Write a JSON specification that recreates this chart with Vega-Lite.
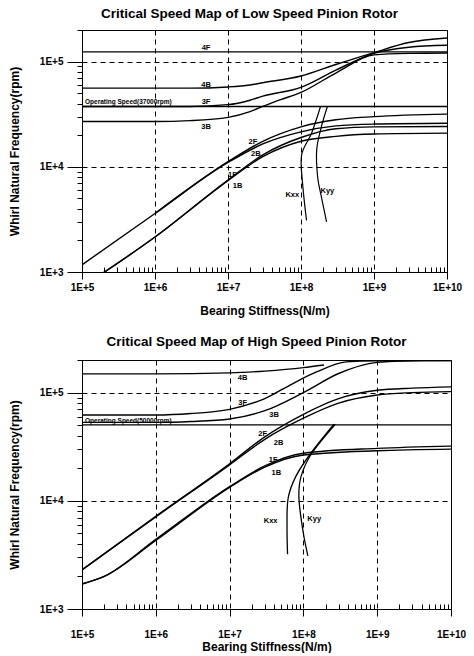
{
  "$schema": "https://vega.github.io/schema/vega-lite/v6.json",
  "padding": {"left": 7, "top": 6, "right": 5, "bottom": 0},
  "spacing": 17,
  "config": {
    "font": "Liberation Sans",
    "view": {"stroke": "black", "strokeWidth": 1},
    "axis": {"domainColor": "black", "tickColor": "black", "labelColor": "black", "titleColor": "black", "gridColor": "black", "gridDash": [5, 4], "gridWidth": 1, "labelFontWeight": "bold", "labelFontSize": 10, "titleFontWeight": "bold", "titleFontSize": 12, "labelFlush": false, "labelOverlap": false},
    "title": {"fontSize": 13.5, "fontWeight": "bold", "color": "black", "anchor": "middle", "frame": "group"}
  },
  "datasets": {
    "low": [
      {"s": "4F", "x": 1e5, "y": 124000}, {"s": "4F", "x": 1e10, "y": 124000},
      {"s": "4B", "x": 1e5, "y": 56000}, {"s": "4B", "x": 3e6, "y": 56000}, {"s": "4B", "x": 1e7, "y": 57500}, {"s": "4B", "x": 2e7, "y": 60000}, {"s": "4B", "x": 3e7, "y": 63000}, {"s": "4B", "x": 1e8, "y": 73000}, {"s": "4B", "x": 3e8, "y": 94000}, {"s": "4B", "x": 1e9, "y": 122000}, {"s": "4B", "x": 3e9, "y": 152000}, {"s": "4B", "x": 1e10, "y": 168000},
      {"s": "3F", "x": 1e5, "y": 37500}, {"s": "3F", "x": 3e6, "y": 37500}, {"s": "3F", "x": 1e7, "y": 39000}, {"s": "3F", "x": 2e7, "y": 43000}, {"s": "3F", "x": 3e7, "y": 47000}, {"s": "3F", "x": 1e8, "y": 57000}, {"s": "3F", "x": 3e8, "y": 83000}, {"s": "3F", "x": 1e9, "y": 120000}, {"s": "3F", "x": 3e9, "y": 137000}, {"s": "3F", "x": 1e10, "y": 143000},
      {"s": "3B", "x": 1e5, "y": 27000}, {"s": "3B", "x": 1e6, "y": 27000}, {"s": "3B", "x": 3e6, "y": 27500}, {"s": "3B", "x": 1e7, "y": 29500}, {"s": "3B", "x": 2e7, "y": 33500}, {"s": "3B", "x": 3e7, "y": 37500}, {"s": "3B", "x": 5e7, "y": 43000}, {"s": "3B", "x": 1e8, "y": 51000}, {"s": "3B", "x": 3e8, "y": 78000}, {"s": "3B", "x": 1e9, "y": 116000}, {"s": "3B", "x": 3e9, "y": 120000}, {"s": "3B", "x": 1e10, "y": 121000},
      {"s": "OP", "x": 1e5, "y": 37500}, {"s": "OP", "x": 1e10, "y": 37500},
      {"s": "2F", "x": 1e5, "y": 1170}, {"s": "2F", "x": 1e6, "y": 3600}, {"s": "2F", "x": 1e7, "y": 11200}, {"s": "2F", "x": 3e7, "y": 17500}, {"s": "2F", "x": 1e8, "y": 24000}, {"s": "2F", "x": 3e8, "y": 28000}, {"s": "2F", "x": 1e9, "y": 30000}, {"s": "2F", "x": 1e10, "y": 31700},
      {"s": "2B", "x": 1e6, "y": 3600}, {"s": "2B", "x": 1e7, "y": 11000}, {"s": "2B", "x": 3e7, "y": 16500}, {"s": "2B", "x": 1e8, "y": 21500}, {"s": "2B", "x": 3e8, "y": 24500}, {"s": "2B", "x": 1e9, "y": 25500}, {"s": "2B", "x": 1e10, "y": 26000},
      {"s": "1F", "x": 1e5, "y": 720}, {"s": "1F", "x": 1e6, "y": 2150}, {"s": "1F", "x": 1e7, "y": 7500}, {"s": "1F", "x": 3e7, "y": 13000}, {"s": "1F", "x": 1e8, "y": 19000}, {"s": "1F", "x": 3e8, "y": 23000}, {"s": "1F", "x": 1e9, "y": 24000}, {"s": "1F", "x": 1e10, "y": 24200},
      {"s": "1B", "x": 1e5, "y": 720}, {"s": "1B", "x": 1e6, "y": 2150}, {"s": "1B", "x": 1e7, "y": 7400}, {"s": "1B", "x": 3e7, "y": 12500}, {"s": "1B", "x": 1e8, "y": 17500}, {"s": "1B", "x": 3e8, "y": 19500}, {"s": "1B", "x": 1e9, "y": 20500}, {"s": "1B", "x": 1e10, "y": 20900}
    ],
    "lowK": [
      {"s": "Kxx", "x": 1.85e8, "y": 37500}, {"s": "Kxx", "x": 1.4e8, "y": 21000}, {"s": "Kxx", "x": 1.02e8, "y": 13000}, {"s": "Kxx", "x": 1.05e8, "y": 7000}, {"s": "Kxx", "x": 1.19e8, "y": 3100},
      {"s": "Kyy", "x": 2.3e8, "y": 37500}, {"s": "Kyy", "x": 1.9e8, "y": 24000}, {"s": "Kyy", "x": 1.64e8, "y": 14500}, {"s": "Kyy", "x": 1.69e8, "y": 8000}, {"s": "Kyy", "x": 1.9e8, "y": 5200}, {"s": "Kyy", "x": 2.24e8, "y": 3000}
    ],
    "lowLab": [
      {"t": "4F", "x": 5e6, "y": 136000}, {"t": "4B", "x": 5e6, "y": 60000}, {"t": "3F", "x": 5e6, "y": 41000}, {"t": "3B", "x": 5e6, "y": 24000},
      {"t": "2F", "x": 2.2e7, "y": 17300}, {"t": "2B", "x": 2.4e7, "y": 13300}, {"t": "1F", "x": 1.15e7, "y": 8400}, {"t": "1B", "x": 1.35e7, "y": 6600},
      {"t": "Kxx", "x": 7.6e7, "y": 5400}, {"t": "Kyy", "x": 2.3e8, "y": 5900}
    ],
    "lowOp": [{"t": "Operating Speed(37000rpm)", "x": 1.1e5, "y": 37500}],
    "high": [
      {"s": "4B", "x": 1e5, "y": 149000}, {"s": "4B", "x": 1e6, "y": 149000}, {"s": "4B", "x": 1e7, "y": 152000}, {"s": "4B", "x": 3e7, "y": 158000}, {"s": "4B", "x": 1e8, "y": 170000}, {"s": "4B", "x": 1.9e8, "y": 180000},
      {"s": "3F", "x": 1e5, "y": 62000}, {"s": "3F", "x": 1e6, "y": 62000}, {"s": "3F", "x": 3e6, "y": 64000}, {"s": "3F", "x": 1e7, "y": 70000}, {"s": "3F", "x": 3e7, "y": 88000}, {"s": "3F", "x": 7e7, "y": 120000}, {"s": "3F", "x": 1.5e8, "y": 155000}, {"s": "3F", "x": 3.8e8, "y": 192000}, {"s": "3F", "x": 1e9, "y": 197000}, {"s": "3F", "x": 1e10, "y": 198000},
      {"s": "3B", "x": 1e5, "y": 53000}, {"s": "3B", "x": 1e6, "y": 53000}, {"s": "3B", "x": 3e6, "y": 54000}, {"s": "3B", "x": 1e7, "y": 57000}, {"s": "3B", "x": 3e7, "y": 68000}, {"s": "3B", "x": 1e8, "y": 100000}, {"s": "3B", "x": 3e8, "y": 150000}, {"s": "3B", "x": 1e9, "y": 190000}, {"s": "3B", "x": 3e9, "y": 197000}, {"s": "3B", "x": 1e10, "y": 198000},
      {"s": "OP", "x": 1e5, "y": 50300}, {"s": "OP", "x": 1e10, "y": 50300},
      {"s": "2F", "x": 1e5, "y": 2300}, {"s": "2F", "x": 1e6, "y": 7200}, {"s": "2F", "x": 1e7, "y": 22000}, {"s": "2F", "x": 3e7, "y": 39000}, {"s": "2F", "x": 1e8, "y": 63000}, {"s": "2F", "x": 3e8, "y": 88000}, {"s": "2F", "x": 1e9, "y": 105000}, {"s": "2F", "x": 3e9, "y": 110000}, {"s": "2F", "x": 1e10, "y": 113000},
      {"s": "2B", "x": 1e5, "y": 2300}, {"s": "2B", "x": 1e6, "y": 7100}, {"s": "2B", "x": 1e7, "y": 21500}, {"s": "2B", "x": 3e7, "y": 37000}, {"s": "2B", "x": 1e8, "y": 58000}, {"s": "2B", "x": 3e8, "y": 80000}, {"s": "2B", "x": 1e9, "y": 95000}, {"s": "2B", "x": 3e9, "y": 100000}, {"s": "2B", "x": 1e10, "y": 102000},
      {"s": "1F", "x": 1e5, "y": 1700}, {"s": "1F", "x": 2e5, "y": 2000}, {"s": "1F", "x": 1e6, "y": 4400}, {"s": "1F", "x": 1e7, "y": 13500}, {"s": "1F", "x": 3e7, "y": 21000}, {"s": "1F", "x": 1e8, "y": 27500}, {"s": "1F", "x": 1e9, "y": 30500}, {"s": "1F", "x": 1e10, "y": 32000},
      {"s": "1B", "x": 1e5, "y": 1700}, {"s": "1B", "x": 2e5, "y": 2000}, {"s": "1B", "x": 1e6, "y": 4300}, {"s": "1B", "x": 1e7, "y": 13300}, {"s": "1B", "x": 3e7, "y": 20500}, {"s": "1B", "x": 1e8, "y": 26500}, {"s": "1B", "x": 1e9, "y": 29000}, {"s": "1B", "x": 1e10, "y": 30000}
    ],
    "highK": [
      {"s": "Kxx", "x": 2.6e8, "y": 51000}, {"s": "Kxx", "x": 1.26e8, "y": 27500}, {"s": "Kxx", "x": 7.9e7, "y": 16800}, {"s": "Kxx", "x": 6.2e7, "y": 10500}, {"s": "Kxx", "x": 6e7, "y": 5800}, {"s": "Kxx", "x": 6.1e7, "y": 3200},
      {"s": "Kyy", "x": 2.7e8, "y": 51000}, {"s": "Kyy", "x": 1.3e8, "y": 27500}, {"s": "Kyy", "x": 9.3e7, "y": 16800}, {"s": "Kyy", "x": 8.7e7, "y": 10500}, {"s": "Kyy", "x": 9.9e7, "y": 5200}, {"s": "Kyy", "x": 1.15e8, "y": 3100}
    ],
    "highLab": [
      {"t": "4B", "x": 1.5e7, "y": 135000}, {"t": "3F", "x": 1.5e7, "y": 80000}, {"t": "3B", "x": 4e7, "y": 62000},
      {"t": "2F", "x": 2.8e7, "y": 41000}, {"t": "2B", "x": 4.6e7, "y": 34000}, {"t": "1F", "x": 3.9e7, "y": 24000}, {"t": "1B", "x": 4.3e7, "y": 18000},
      {"t": "Kxx", "x": 3.6e7, "y": 6500}, {"t": "Kyy", "x": 1.4e8, "y": 6800}
    ],
    "highOp": [{"t": "Operating Speed(50000rpm)", "x": 1.1e5, "y": 50300}]
  },
  "vconcat": [
    {
      "title": {"text": "Critical Speed Map of Low Speed Pinion Rotor", "dx": -15, "offset": 4.5},
      "width": 365,
      "height": 242,
      "layer": [
        {
          "data": {"name": "low"},
          "mark": {"type": "line", "clip": true, "color": "black", "interpolate": "monotone"},
          "encoding": {
            "x": {"field": "x", "type": "quantitative", "scale": {"type": "log", "domain": [1e5, 1e10], "nice": false},
              "axis": {"values": [1e5, 2e5, 3e5, 4e5, 5e5, 6e5, 7e5, 8e5, 9e5, 1e6, 2e6, 3e6, 4e6, 5e6, 6e6, 7e6, 8e6, 9e6, 1e7, 2e7, 3e7, 4e7, 5e7, 6e7, 7e7, 8e7, 9e7, 1e8, 2e8, 3e8, 4e8, 5e8, 6e8, 7e8, 8e8, 9e8, 1e9, 2e9, 3e9, 4e9, 5e9, 6e9, 7e9, 8e9, 9e9, 1e10],
                "labelExpr": "abs(log(datum.value)/LN10 - round(log(datum.value)/LN10)) < 0.001 ? '1E+' + round(log(datum.value)/LN10) : ''",
                "gridOpacity": {"condition": {"test": "abs(log(datum.value)/LN10 - round(log(datum.value)/LN10)) < 0.001", "value": 1}, "value": 0},
                "tickSize": {"condition": {"test": "abs(log(datum.value)/LN10 - round(log(datum.value)/LN10)) < 0.001", "value": 7}, "value": -5},
                "title": "Bearing Stiffness(N/m)", "grid": true, "labelPadding": 3, "titlePadding": 13}},
            "y": {"field": "y", "type": "quantitative", "scale": {"type": "log", "domain": [1000, 200000], "nice": false},
              "axis": {"values": [1000, 2000, 3000, 4000, 5000, 6000, 7000, 8000, 9000, 10000, 20000, 30000, 40000, 50000, 60000, 70000, 80000, 90000, 100000, 200000],
                "labelExpr": "abs(log(datum.value)/LN10 - round(log(datum.value)/LN10)) < 0.001 ? '1E+' + round(log(datum.value)/LN10) : ''",
                "gridOpacity": {"condition": {"test": "abs(log(datum.value)/LN10 - round(log(datum.value)/LN10)) < 0.001", "value": 1}, "value": 0},
                "tickSize": {"condition": {"test": "abs(log(datum.value)/LN10 - round(log(datum.value)/LN10)) < 0.001", "value": 15}, "value": 5},
                "title": "Whirl Natural Frequency(rpm)", "grid": true, "labelPadding": 4, "titlePadding": 18}},
            "detail": {"field": "s", "type": "nominal"},
            "strokeWidth": {"field": "s", "type": "nominal", "legend": null,
              "scale": {"domain": ["4F", "4B", "3F", "3B", "OP", "2F", "2B", "1F", "1B"], "range": [1.4, 1.4, 1.4, 1.4, 1.6, 1.3, 1.1, 2.6, 1.3]}}
          }
        },
        {
          "data": {"name": "lowK"},
          "mark": {"type": "line", "clip": true, "color": "black", "strokeWidth": 1.2, "interpolate": "cardinal"},
          "encoding": {
            "x": {"field": "x", "type": "quantitative"},
            "y": {"field": "y", "type": "quantitative"},
            "detail": {"field": "s", "type": "nominal"},
            "order": {"field": "y", "sort": "descending"}
          }
        },
        {
          "data": {"name": "lowLab"},
          "mark": {"type": "text", "fontSize": 7.5, "fontWeight": "bold", "color": "black"},
          "encoding": {
            "x": {"field": "x", "type": "quantitative"},
            "y": {"field": "y", "type": "quantitative"},
            "text": {"field": "t"}
          }
        },
        {
          "data": {"name": "lowOp"},
          "mark": {"type": "text", "fontSize": 6.5, "fontWeight": "bold", "color": "black", "align": "left", "baseline": "bottom", "dy": -1},
          "encoding": {
            "x": {"field": "x", "type": "quantitative"},
            "y": {"field": "y", "type": "quantitative"},
            "text": {"field": "t"}
          }
        }
      ]
    },
    {
      "title": {"text": "Critical Speed Map of High Speed Pinion Rotor", "dx": -10, "offset": 7},
      "width": 369,
      "height": 249,
      "layer": [
        {
          "data": {"name": "high"},
          "mark": {"type": "line", "clip": true, "color": "black", "interpolate": "monotone"},
          "encoding": {
            "x": {"field": "x", "type": "quantitative", "scale": {"type": "log", "domain": [1e5, 1e10], "nice": false},
              "axis": {"values": [1e5, 2e5, 3e5, 4e5, 5e5, 6e5, 7e5, 8e5, 9e5, 1e6, 2e6, 3e6, 4e6, 5e6, 6e6, 7e6, 8e6, 9e6, 1e7, 2e7, 3e7, 4e7, 5e7, 6e7, 7e7, 8e7, 9e7, 1e8, 2e8, 3e8, 4e8, 5e8, 6e8, 7e8, 8e8, 9e8, 1e9, 2e9, 3e9, 4e9, 5e9, 6e9, 7e9, 8e9, 9e9, 1e10],
                "labelExpr": "abs(log(datum.value)/LN10 - round(log(datum.value)/LN10)) < 0.001 ? '1E+' + round(log(datum.value)/LN10) : ''",
                "gridOpacity": {"condition": {"test": "abs(log(datum.value)/LN10 - round(log(datum.value)/LN10)) < 0.001", "value": 1}, "value": 0},
                "tickSize": {"condition": {"test": "abs(log(datum.value)/LN10 - round(log(datum.value)/LN10)) < 0.001", "value": 7}, "value": -5},
                "title": "Bearing Stiffness(N/m)", "grid": true, "labelPadding": 13, "titlePadding": 2}},
            "y": {"field": "y", "type": "quantitative", "scale": {"type": "log", "domain": [1000, 200000], "nice": false},
              "axis": {"values": [1000, 2000, 3000, 4000, 5000, 6000, 7000, 8000, 9000, 10000, 20000, 30000, 40000, 50000, 60000, 70000, 80000, 90000, 100000, 200000],
                "labelExpr": "abs(log(datum.value)/LN10 - round(log(datum.value)/LN10)) < 0.001 ? '1E+' + round(log(datum.value)/LN10) : ''",
                "gridOpacity": {"condition": {"test": "abs(log(datum.value)/LN10 - round(log(datum.value)/LN10)) < 0.001", "value": 1}, "value": 0},
                "tickSize": {"condition": {"test": "abs(log(datum.value)/LN10 - round(log(datum.value)/LN10)) < 0.001", "value": 15}, "value": 5},
                "title": "Whirl Natural Frequency(rpm)", "grid": true, "labelPadding": 4, "titlePadding": 18}},
            "detail": {"field": "s", "type": "nominal"},
            "strokeWidth": {"field": "s", "type": "nominal", "legend": null,
              "scale": {"domain": ["4B", "3F", "3B", "OP", "2F", "2B", "1F", "1B"], "range": [1.4, 1.6, 1.6, 1.6, 2.4, 1.4, 2.4, 1.4]}}
          }
        },
        {
          "data": {"name": "highK"},
          "mark": {"type": "line", "clip": true, "color": "black", "strokeWidth": 1.3, "interpolate": "cardinal"},
          "encoding": {
            "x": {"field": "x", "type": "quantitative"},
            "y": {"field": "y", "type": "quantitative"},
            "detail": {"field": "s", "type": "nominal"},
            "order": {"field": "y", "sort": "descending"}
          }
        },
        {
          "data": {"name": "highLab"},
          "mark": {"type": "text", "fontSize": 7.5, "fontWeight": "bold", "color": "black"},
          "encoding": {
            "x": {"field": "x", "type": "quantitative"},
            "y": {"field": "y", "type": "quantitative"},
            "text": {"field": "t"}
          }
        },
        {
          "data": {"name": "highOp"},
          "mark": {"type": "text", "fontSize": 6.5, "fontWeight": "bold", "color": "black", "align": "left", "baseline": "bottom", "dy": -1},
          "encoding": {
            "x": {"field": "x", "type": "quantitative"},
            "y": {"field": "y", "type": "quantitative"},
            "text": {"field": "t"}
          }
        }
      ]
    }
  ]
}
